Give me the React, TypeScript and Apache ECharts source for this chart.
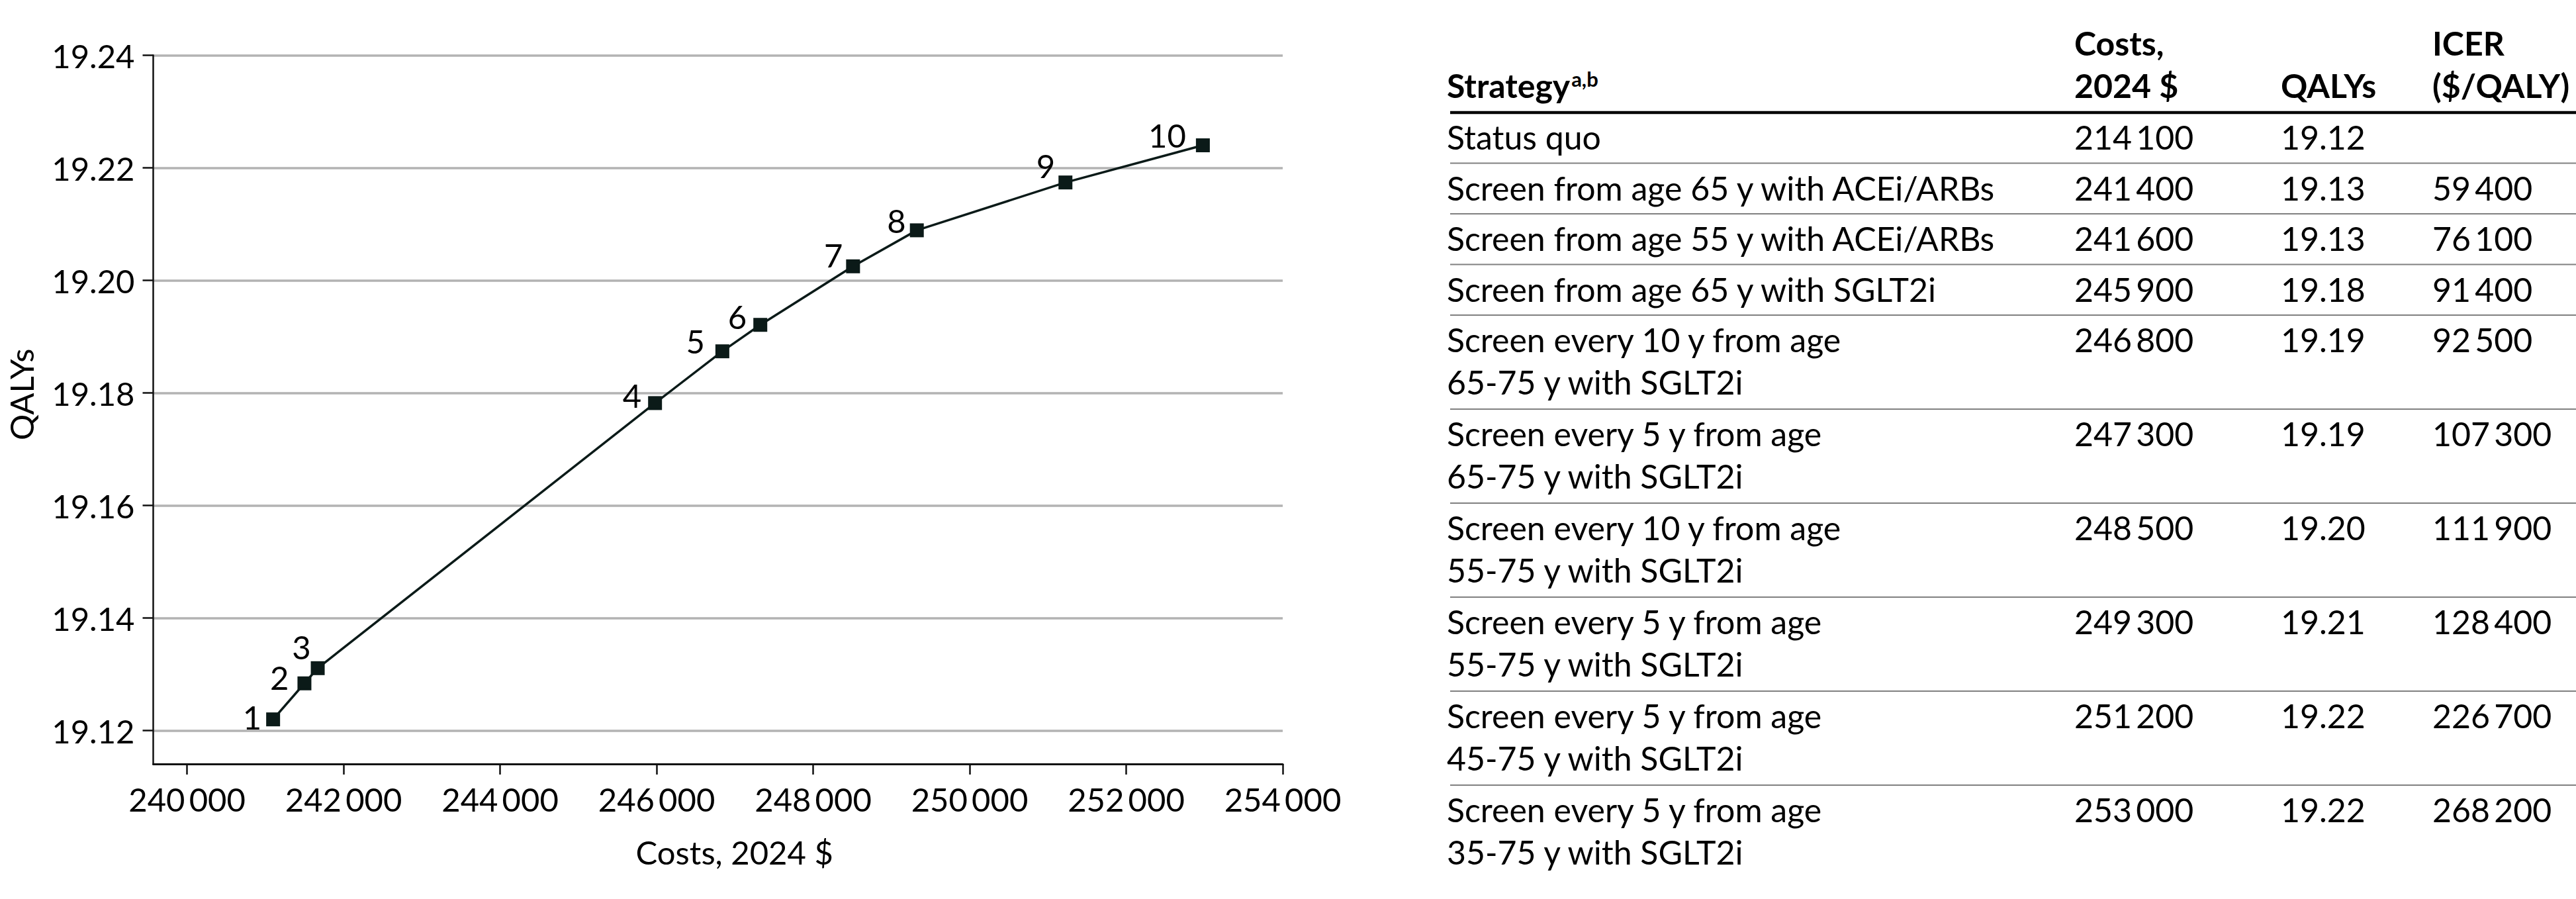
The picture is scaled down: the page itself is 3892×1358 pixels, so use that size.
import React, { useEffect, useRef } from "react";
import * as echarts from "echarts";

// ---------- chart data ----------
const pointLabels = ["1", "2", "3", "4", "5", "6", "7", "8", "9", "10"];
const pointCosts = [241100, 241500, 241670, 245980, 246840, 247325, 248510, 249325, 251224, 252980];
const pointQalys = [19.122, 19.1284, 19.1311, 19.1782, 19.1874, 19.1921, 19.2025, 19.2089, 19.2174, 19.224];
const xTicks = [240000, 242000, 244000, 246000, 248000, 250000, 252000, 254000];
const yTicks = [19.12, 19.14, 19.16, 19.18, 19.2, 19.22, 19.24];
const xTitle = "Costs, 2024 $";
const yTitle = "QALYs";

// ---------- table data ----------
const tableHeaders = ["Strategy", "Costs,\n2024 $", "QALYs", "ICER\n($/QALY)"];
const strategyNotes = "a,b";
const strategies = [
  "Status quo",
  "Screen from age 65 y with ACEi/ARBs",
  "Screen from age 55 y with ACEi/ARBs",
  "Screen from age 65 y with SGLT2i",
  "Screen every 10 y from age\n65-75 y with SGLT2i",
  "Screen every 5 y from age\n65-75 y with SGLT2i",
  "Screen every 10 y from age\n55-75 y with SGLT2i",
  "Screen every 5 y from age\n55-75 y with SGLT2i",
  "Screen every 5 y from age\n45-75 y with SGLT2i",
  "Screen every 5 y from age\n35-75 y with SGLT2i",
];
const tableCosts = [214100, 241400, 241600, 245900, 246800, 247300, 248500, 249300, 251200, 253000];
const tableQalys = ["19.12", "19.13", "19.13", "19.18", "19.19", "19.19", "19.20", "19.21", "19.22", "19.22"];
const tableIcers: (number | null)[] = [null, 59400, 76100, 91400, 92500, 107300, 111900, 128400, 226700, 268200];

// label placement (distance from marker, vertical nudge)
const labelNudge: [number, number][] = [
  [7, -4], [13, -9], [0, -32], [10, -12], [16, -16], [10, -13], [5, -17], [6, -15], [5, -26], [15, -16],
];

const FONT = "Lato";
const INK = "#0b1a18";
const fmtThousands = (n: number) => String(Math.round(n)).replace(/\B(?=(\d{3})+(?!\d))/g, "\u2009");

function buildTable() {
  const fs = 50;
  const mid = (baseline: number) => baseline - 0.37 * fs;
  const colX = [2186, 3134, 3446, 3675];
  const els: any[] = [];
  const text = (t: string, x: number, baseline: number, bold = false) => ({
    type: "text",
    silent: true,
    x,
    y: mid(baseline),
    style: {
      text: t,
      fill: "#000",
      fontSize: fs,
      fontFamily: FONT,
      fontWeight: bold ? "bold" : "normal",
      align: "left",
      verticalAlign: "middle",
    },
  });
  // header
  const headBase = [83, 147];
  tableHeaders.forEach((h, ci) => {
    const lines = h.split("\n");
    lines.forEach((ln, li) => {
      const b = headBase[headBase.length - lines.length + li];
      if (ci === 0) {
        els.push({
          type: "text",
          silent: true,
          x: colX[0],
          y: mid(b),
          style: {
            text: "{s|" + ln + "}{sup|" + strategyNotes + "}",
            fill: "#000",
            fontFamily: FONT,
            fontSize: fs,
            fontWeight: "bold",
            align: "left",
            verticalAlign: "middle",
            rich: {
              s: { fontSize: fs, fontWeight: "bold", fontFamily: FONT, fill: "#000" },
              sup: { fontSize: 31, fontWeight: "bold", fontFamily: FONT, fill: "#000", verticalAlign: "top", padding: [0, 0, 0, 2] },
            },
          },
        });
      } else {
        els.push(text(ln, colX[ci], b, true));
      }
    });
  });
  const ruleL = 2191;
  const ruleR = 3892;
  els.push({ type: "line", silent: true, shape: { x1: ruleL, y1: 170, x2: ruleR, y2: 170 }, style: { stroke: "#000", lineWidth: 4.5 } });
  let top = 170;
  strategies.forEach((s, ri) => {
    const lines = s.split("\n");
    const first = top + 55.5;
    lines.forEach((ln, li) => els.push(text(ln, colX[0], first + li * 64)));
    els.push(text(fmtThousands(tableCosts[ri]), colX[1], first));
    els.push(text(tableQalys[ri], colX[2], first));
    const ic = tableIcers[ri];
    if (ic !== null) els.push(text(fmtThousands(ic), colX[3], first));
    const h = 76.5 + (lines.length - 1) * 65.5;
    top += h;
    if (ri < strategies.length - 1) {
      els.push({ type: "line", silent: true, shape: { x1: ruleL, y1: top, x2: ruleR, y2: top }, style: { stroke: "#808080", lineWidth: 2 } });
    }
  });
  return els;
}

export default function App() {
  const ref = useRef<HTMLDivElement>(null);
  useEffect(() => {
    if (!ref.current) return;
    const chart = echarts.init(ref.current, undefined, { renderer: "svg" });
    const chartFs = 49;
    const option: any = {
      animation: false,
      backgroundColor: "#ffffff",
      textStyle: { fontFamily: FONT },
      grid: { left: 231.5, top: 83.5, width: 1706.5, height: 1070.5, containLabel: false, outerBoundsMode: "none" },
      xAxis: {
        type: "value",
        min: 239568,
        max: 254000,
        name: xTitle,
        nameLocation: "middle",
        nameGap: 108,
        nameTextStyle: { fontSize: chartFs, color: "#000", fontFamily: FONT, padding: [0, 0, 0, 50] },
        axisLine: { show: true, onZero: false, lineStyle: { color: "#111", width: 3 } },
        axisTick: { show: true, length: 16, customValues: xTicks, lineStyle: { color: "#111", width: 2.5 } },
        axisLabel: {
          show: true,
          customValues: xTicks,
          margin: 28,
          fontSize: chartFs,
          color: "#000",
          fontFamily: FONT,
          formatter: (v: number) => fmtThousands(v),
        },
        splitLine: { show: false },
      },
      yAxis: {
        type: "value",
        min: 19.11408,
        max: 19.24,
        name: yTitle,
        nameLocation: "middle",
        nameGap: 175,
        nameTextStyle: { fontSize: chartFs, color: "#000", fontFamily: FONT, padding: [0, 0, 0, 46] },
        axisLine: { show: true, onZero: false, lineStyle: { color: "#111", width: 2.5 } },
        axisTick: { show: true, length: 16, customValues: yTicks, lineStyle: { color: "#111", width: 2.5 } },
        axisLabel: {
          show: true,
          customValues: yTicks,
          margin: 28,
          fontSize: chartFs,
          color: "#000",
          fontFamily: FONT,
          formatter: (v: number) => v.toFixed(2),
        },
        splitLine: { show: true, lineStyle: { color: "#b3b3b3", width: 3.5 } },
      },
      series: [
        {
          type: "line",
          data: pointCosts.map((c, i) => ({
            value: [c, pointQalys[i]],
            label: { distance: labelNudge[i][0], offset: [0, labelNudge[i][1]] },
          })),
          symbol: "rect",
          symbolSize: 21,
          lineStyle: { color: INK, width: 3.5 },
          itemStyle: { color: INK },
          label: {
            show: true,
            position: "left",
            formatter: (p: any) => pointLabels[p.dataIndex],
            fontSize: chartFs,
            color: "#000",
            fontFamily: FONT,
          },
          z: 3,
        },
      ],
      graphic: { elements: buildTable() },
    };
    chart.setOption(option);
    return () => chart.dispose();
  }, []);
  return <div ref={ref} style={{ position: "absolute", left: 0, top: 0, width: 3892, height: 1358 }} />;
}
